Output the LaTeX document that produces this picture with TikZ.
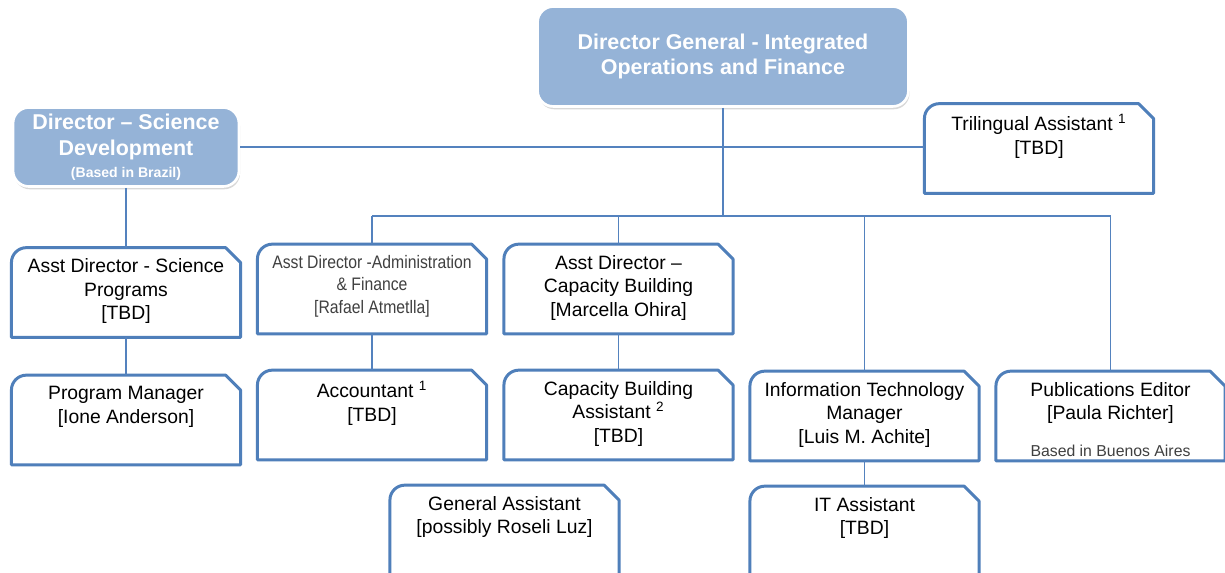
\documentclass[tikz,border=0pt]{standalone}
\usepackage{fontspec}
\setmainfont{Liberation Sans}
\newfontfamily\narrowfont[FakeStretch=0.87]{Liberation Sans}
\usetikzlibrary{shadows, positioning}
\definecolor{boxblue}{RGB}{79,127,186}
\definecolor{linkblue}{RGB}{84,130,190}
\definecolor{dirfill}{RGB}{149,179,215}
\definecolor{softgrey}{RGB}{64,64,64}
\def\bw{4.57cm}
\def\bh{1.78cm}
\newcommand{\posttext}[1]{\parbox[c][\bh][t]{\bw}{\centering\vspace*{6pt}#1}}
\tikzstyle{director} = [rectangle, rounded corners=9pt, fill=dirfill, draw=white, line width=1.5pt,
                        drop shadow={opacity=0.3, shadow xshift=0.6pt, shadow yshift=-1.6pt},
                        text=white, font=\bfseries\fontsize{12.2}{14.7}\selectfont, align=center]
\tikzstyle{postbox} = [rectangle, inner sep=0pt, font=\fontsize{11}{13.5}\selectfont]
\tikzstyle{postline} = [draw=boxblue, line width=1.7pt, line join=round]
\tikzstyle{orgline} = [draw=linkblue, line width=0.7pt]

\begin{document}
\begin{tikzpicture}[x=0.02cm, y=-0.02cm]
  \fill[white] (0,0) rectangle (1225,573);
  \useasboundingbox (0,0) rectangle (1225,573);

  \node[director, minimum width=7.42cm, minimum height=2cm] (dg) at (723,56.5)
       {Director General - Integrated\\Operations and Finance};
  \node[director, minimum width=4.52cm, minimum height=1.58cm] (ds) at (126,147)
       {Director -- Science\\Development\\[-2pt]{\fontsize{8}{9}\selectfont(Based in Brazil)}};

  \node[postbox] (tri) at (1039,148.5) {\posttext{Trilingual Assistant \textsuperscript{1}\\{[TBD]}}};

  \node[postbox] (asd) at (126,292.5) {\posttext{Asst Director - Science\\Programs\\{[TBD]}}};
  \node[postbox] (pm)  at (126,420)   {\posttext{Program Manager\\{[Ione Anderson]}}};

  \node[postbox] (ada) at (372,289) {\posttext{\narrowfont\fontsize{10.3}{13}\selectfont\color{softgrey}%
       Asst Director -Administration\\\& Finance\\{[Rafael Atmetlla]}}};
  \node[postbox] (acc) at (372,415) {\posttext{Accountant \textsuperscript{1}\\{[TBD]}}};

  \node[postbox] (adc) at (618.5,289) {\posttext{Asst Director --\\Capacity Building\\{[Marcella Ohira]}}};
  \node[postbox] (cba) at (618.5,415) {\posttext{Capacity Building\\Assistant \textsuperscript{2}\\{[TBD]}}};
  \node[postbox] (ga)  at (504.5,530) {\posttext{General Assistant\\{[possibly Roseli Luz]}}};

  \node[postbox] (itm) at (864.5,416) {\posttext{Information Technology\\Manager\\{[Luis M. Achite]}}};
  \node[postbox] (ita) at (864.5,531) {\posttext{IT Assistant\\{[TBD]}}};

  \node[postbox] (pub) at (1110.5,416) {\posttext{Publications Editor\\{[Paula Richter]}\\[7.3pt]%
       {\fontsize{9}{10.8}\selectfont\color{softgrey}Based in Buenos Aires}}};

  % box outlines: rounded top left, cut top right
  \foreach \n in {tri,asd,pm,ada,acc,adc,cba,ga,itm,ita,pub}{
    \draw[postline] (\n.south west) -- ([yshift=-8.5pt]\n.north west)
        arc[start angle=180, end angle=90, radius=8.5pt] -- ([xshift=-8.5pt]\n.north east)
        -- ([yshift=-8.5pt]\n.north east) -- (\n.south east) -- cycle;
  }

  \coordinate (bus) at (723,216);
  \draw[orgline] (dg.south) -- (bus);
  \draw[orgline] (ada.north |- bus) -- (pub.north |- bus);
  \foreach \n in {ada,adc,itm,pub}{
    \draw[orgline] (\n.north |- bus) -- (\n.north);
  }
  \draw[orgline] (ds.east) -- (ds.east -| tri.west);
  \draw[orgline] (ds.south) -- (asd.north);
  \draw[orgline] (asd.south) -- (pm.north);
  \draw[orgline] (ada.south) -- (acc.north);
  \draw[orgline] (adc.south) -- (cba.north);
  \draw[orgline] (itm.south) -- (ita.north);

\end{tikzpicture}
\end{document}
